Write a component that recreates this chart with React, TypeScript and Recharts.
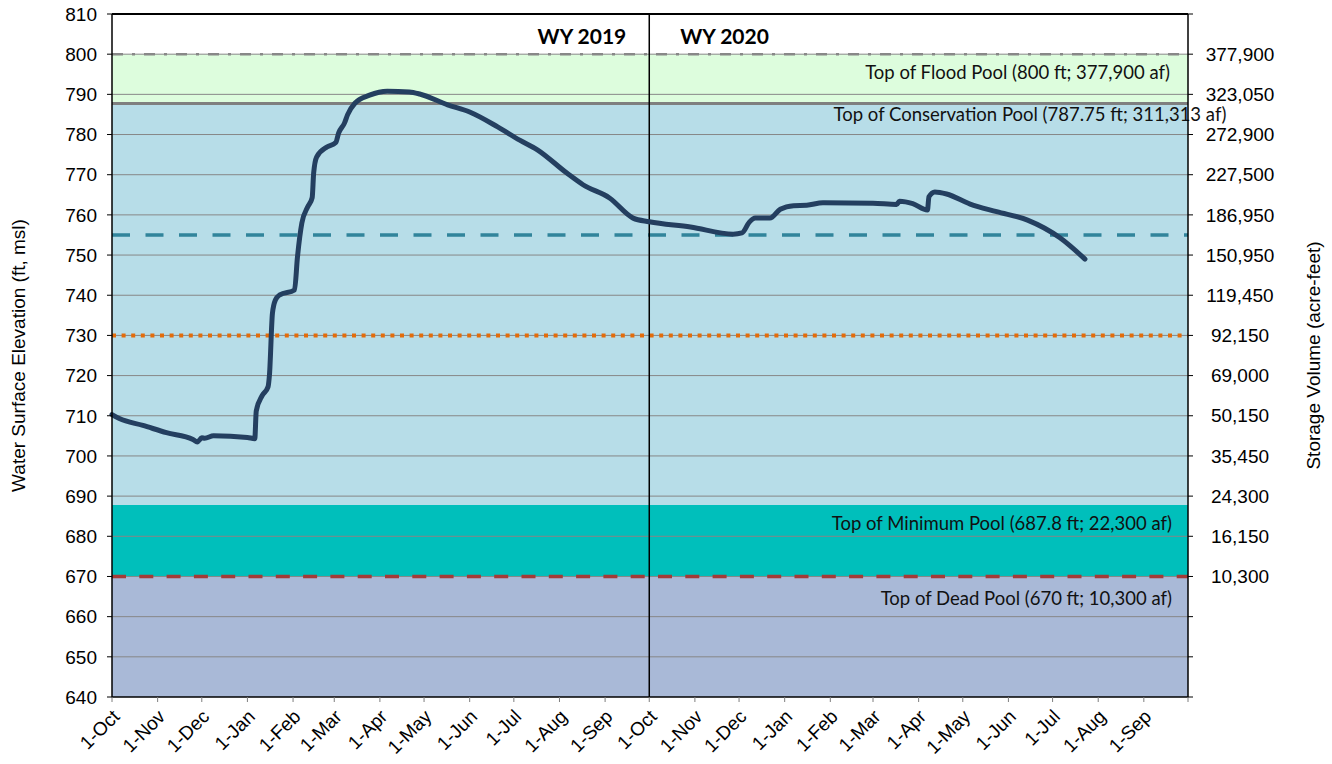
import React from 'react';
import {
  ComposedChart,
  Line,
  ReferenceArea,
  ReferenceLine,
  XAxis,
  YAxis,
} from 'recharts';

const obsDates = [
  '2018-10-01', '2018-10-06', '2018-10-22', '2018-11-07', '2018-11-25', '2018-11-28',
  '2018-12-01', '2018-12-03', '2018-12-09', '2019-01-01', '2019-01-06', '2019-01-07',
  '2019-01-11', '2019-01-15', '2019-01-16', '2019-01-18', '2019-01-20', '2019-01-23',
  '2019-02-02', '2019-02-04', '2019-02-07', '2019-02-11', '2019-02-14', '2019-02-15',
  '2019-02-17', '2019-02-24', '2019-03-02', '2019-03-04', '2019-03-08', '2019-03-10',
  '2019-03-15', '2019-03-25', '2019-04-06', '2019-04-21', '2019-04-28', '2019-05-17',
  '2019-06-01', '2019-06-20', '2019-07-05', '2019-07-17', '2019-08-06', '2019-08-17',
  '2019-09-04', '2019-09-20', '2019-10-01', '2019-10-29', '2019-11-27', '2019-12-03',
  '2019-12-08', '2019-12-12', '2019-12-22', '2019-12-29', '2020-01-07', '2020-01-16',
  '2020-01-27', '2020-03-01', '2020-03-17', '2020-03-19', '2020-03-28', '2020-04-07',
  '2020-04-08', '2020-04-12', '2020-04-20', '2020-05-06', '2020-05-24', '2020-06-14',
  '2020-07-06', '2020-07-23',
];
const obsElev = [
  710.3, 709.3, 707.6, 705.8, 704.1, 703.5,
  704.5, 704.4, 705.0, 704.6, 704.3, 711.2,
  715.0, 717.2, 720.3, 735.5, 738.8, 740.1,
  741.3, 749.5, 758.0, 762.0, 764.3, 770.4,
  774.4, 776.9, 778.0, 780.4, 782.9, 784.9,
  787.8, 789.8, 790.8, 790.6, 790.1, 787.4,
  785.6, 781.9, 778.6, 776.2, 770.4, 767.5,
  764.2, 759.2, 758.3, 757.0, 755.2, 755.5,
  758.2, 759.2, 759.2, 761.4, 762.3, 762.4,
  763.0, 762.9, 762.6, 763.4, 762.8, 761.2,
  764.5, 765.7, 765.2, 762.7, 760.8, 758.7,
  754.3, 749.0,
];

const monthLabels = ['1-Oct', '1-Nov', '1-Dec', '1-Jan', '1-Feb', '1-Mar', '1-Apr', '1-May', '1-Jun', '1-Jul', '1-Aug', '1-Sep'];
const elevTicks = [640, 650, 660, 670, 680, 690, 700, 710, 720, 730, 740, 750, 760, 770, 780, 790, 800, 810];
const storageElev = [670, 680, 690, 700, 710, 720, 730, 740, 750, 760, 770, 780, 790, 800];
const storageVolume = ['10,300', '16,150', '24,300', '35,450', '50,150', '69,000', '92,150', '119,450', '150,950', '186,950', '227,500', '272,900', '323,050', '377,900'];

const FLOOD_POOL = 800;
const CONSERVATION_POOL = 787.75;
const MINIMUM_POOL = 687.8;
const DEAD_POOL = 670;
const TEAL_LEVEL = 755;
const ORANGE_LEVEL = 730;

const BASE = Date.UTC(2018, 9, 1);
const DAY_MS = 86400000;
const toDay = (s: string) => {
  const [y, m, d] = s.split('-').map(Number);
  return (Date.UTC(y, m - 1, d) - BASE) / DAY_MS;
};
const monthTicks = Array.from({ length: 25 }, (_, i) => (Date.UTC(2018, 9 + i, 1) - BASE) / DAY_MS);
const TOTAL_DAYS = monthTicks[monthTicks.length - 1];
const WY_SPLIT = monthTicks[12];

const lineData = obsDates.map((d, i) => ({ day: toDay(d), elev: obsElev[i] }));

const AXIS_FONT = '"Liberation Sans", Arial, sans-serif';
const NOTE_FONT = 'Lato, "Open Sans", sans-serif';

function XTick(props: any) {
  const { x, y, index } = props;
  const label = index < 24 ? monthLabels[index % 12] : '';
  const ax = x + 4;
  const ay = y + 9;
  return (
    <text
      x={ax}
      y={ay}
      dy="0.35em"
      transform={`rotate(-45, ${ax}, ${ay})`}
      textAnchor="end"
      fontFamily={AXIS_FONT}
      fontSize={19}
      fill="#000"
    >
      {label}
    </text>
  );
}

function StorageTick(props: any) {
  const { x, y, payload } = props;
  const idx = storageElev.indexOf(Number(payload.value));
  if (idx < 0) return <g />;
  return (
    <text x={x + 47} y={y} dy="0.35em" textAnchor="middle" fontFamily={AXIS_FONT} fontSize={19} fill="#000">
      {storageVolume[idx]}
    </text>
  );
}

const noteLabel = (text: string, dx: number, dy: number, anchor: 'start' | 'middle' | 'end') => (props: any) => {
  const vb = props.viewBox;
  return (
    <text
      x={vb.x + vb.width + dx}
      y={vb.y + dy}
      textAnchor={anchor}
      dominantBaseline="central"
      fontFamily={NOTE_FONT}
      fontSize={18.5}
      fill="#111"
    >
      {text}
    </text>
  );
};

const wyLabel = (props: any) => {
  const vb = props.viewBox;
  return (
    <g fontFamily={NOTE_FONT} fontSize={21} fontWeight="bold" fill="#000">
      <text x={vb.x - 23} y={vb.y + 21} textAnchor="end" dominantBaseline="central">WY 2019</text>
      <text x={vb.x + 31} y={vb.y + 21} textAnchor="start" dominantBaseline="central">WY 2020</text>
    </g>
  );
};

const leftTitle = (props: any) => {
  const vb = props.viewBox;
  const cx = vb.x - 34;
  const cy = vb.y + vb.height / 2;
  return (
    <text x={cx} y={cy} transform={`rotate(-90, ${cx}, ${cy})`} textAnchor="middle" dominantBaseline="central" fontFamily={AXIS_FONT} fontSize={19} fill="#000">
      Water Surface Elevation (ft, msl)
    </text>
  );
};

const rightTitle = (props: any) => {
  const vb = props.viewBox;
  const cx = vb.x + 125;
  const cy = vb.y + vb.height / 2;
  return (
    <text x={cx} y={cy} transform={`rotate(-90, ${cx}, ${cy})`} textAnchor="middle" dominantBaseline="central" fontFamily={AXIS_FONT} fontSize={19} fill="#000">
      Storage Volume (acre-feet)
    </text>
  );
};

export default function App() {
  const gridLevels = elevTicks.filter(t => t > 640 && t < 810);
  return (
    <div style={{ position: 'absolute', left: 0, top: 0, width: 1332, height: 764, background: '#fff' }}>
      <ComposedChart width={1332} height={764} data={lineData} margin={{ top: 14, right: 44, bottom: 0, left: 52 }}>
        <XAxis
          dataKey="day"
          type="number"
          domain={[0, TOTAL_DAYS]}
          ticks={monthTicks}
          interval={0}
          height={67}
          tickSize={5}
          tick={<XTick />}
          tickLine={{ stroke: '#7f7f7f' }}
          axisLine={{ stroke: '#000', strokeWidth: 1.5 }}
        />
        <YAxis
          yAxisId="left"
          type="number"
          domain={[640, 810]}
          allowDataOverflow
          ticks={elevTicks}
          interval={0}
          width={60}
          tickSize={5}
          tickMargin={10}
          tick={{ fill: '#000', fontSize: 19, fontFamily: AXIS_FONT }}
          tickLine={{ stroke: '#000' }}
          axisLine={{ stroke: '#000', strokeWidth: 1.5 }}
          label={leftTitle}
        />
        <YAxis
          yAxisId="right"
          type="number"
          orientation="right"
          domain={[640, 810]}
          allowDataOverflow
          ticks={elevTicks}
          interval={0}
          width={100}
          tickSize={5}
          tickMargin={0}
          tick={<StorageTick />}
          tickLine={{ stroke: '#000' }}
          axisLine={{ stroke: '#000', strokeWidth: 1.5 }}
          label={rightTitle}
        />

        <ReferenceArea yAxisId="left" y1={640} y2={DEAD_POOL} fill="#a9b9d7" fillOpacity={1} stroke="none" />
        <ReferenceArea yAxisId="left" y1={DEAD_POOL} y2={MINIMUM_POOL} fill="#00bfbb" fillOpacity={1} stroke="none" />
        <ReferenceArea yAxisId="left" y1={MINIMUM_POOL} y2={CONSERVATION_POOL} fill="#b7dde8" fillOpacity={1} stroke="none" />
        <ReferenceArea yAxisId="left" y1={CONSERVATION_POOL} y2={FLOOD_POOL} fill="#ddfddd" fillOpacity={1} stroke="none" />

        {gridLevels.map(level => (
          <ReferenceLine key={level} yAxisId="left" y={level} stroke="#878787" strokeWidth={1} />
        ))}
        <ReferenceLine yAxisId="left" y={810} stroke="#000" strokeWidth={2} />

        <ReferenceLine
          yAxisId="left"
          y={FLOOD_POOL}
          stroke="#888"
          strokeWidth={2.5}
          strokeDasharray="11 9 3 9"
          label={noteLabel('Top of Flood Pool (800 ft; 377,900 af)', -18, 18, 'end')}
        />
        <ReferenceLine
          yAxisId="left"
          y={CONSERVATION_POOL}
          stroke="#7f7f7f"
          strokeWidth={3}
          label={noteLabel('Top of Conservation Pool (787.75 ft; 311,313 af)', -158, 11, 'middle')}
        />
        <ReferenceLine
          yAxisId="left"
          y={MINIMUM_POOL}
          stroke="none"
          label={noteLabel('Top of Minimum Pool (687.8 ft; 22,300 af)', -16, 18, 'end')}
        />
        <ReferenceLine
          yAxisId="left"
          y={DEAD_POOL}
          stroke="#a33b37"
          strokeWidth={3.5}
          strokeDasharray="14 13.3"
          label={noteLabel('Top of Dead Pool (670 ft; 10,300 af)', -16, 22, 'end')}
        />
        <ReferenceLine yAxisId="left" y={TEAL_LEVEL} stroke="#31849b" strokeWidth={3.5} strokeDasharray="18 15.5" />
        <ReferenceLine yAxisId="left" y={ORANGE_LEVEL} stroke="#e46c0a" strokeWidth={4} strokeDasharray="4 5.6" />
        <ReferenceLine yAxisId="left" x={WY_SPLIT} stroke="#000" strokeWidth={1.5} label={wyLabel} />

        <Line
          yAxisId="left"
          dataKey="elev"
          type="monotone"
          stroke="#243f60"
          strokeWidth={5}
          strokeLinejoin="round"
          strokeLinecap="round"
          dot={false}
          activeDot={false}
          isAnimationActive={false}
        />
      </ComposedChart>
    </div>
  );
}
